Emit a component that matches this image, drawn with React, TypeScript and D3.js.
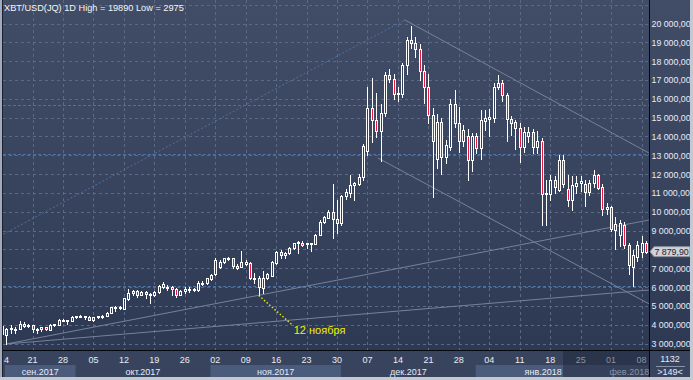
import React from 'react';
import * as d3 from 'd3';

// ---- data (daily candles, 14 Sep 2017 .. 9 Feb 2018) ----
const startDate = new Date(2017, 8, 14);
const opens = [3920,3450,3760,3740,3790,4040,3930,3960,3740,3780,3860,3740,3990,3990,4230,4200,4200,
  4420,4430,4450,4400,4260,4400,4440,4460,4620,4900,4960,4850,5380,5680,5770,5600,5740,5560,5560,5740,6010,6020,6000,5900,5600,5780,5920,5830,5860,6200,6200,
  6450,6680,7090,7330,7510,7550,7140,7090,7240,7270,6490,6500,5960,6490,6610,7270,7850,7720,7800,8080,8330,8330,8260,8290,8290,8780,9450,9680,9980,9630,
  9390,10810,10990,11400,11480,11840,13220,15520,14880,14280,15260,17290,17060,16230,16270,17770,19130,18950,18620,17500,16620,15150,12800,14760,12900,13430,15730,14700,13780,14050,12760,
  14050,13400,14810,14940,15000,16650,16830,16180,14940,14760,14460,13430,14000,14230,13430,13750,10950,10920,11660,11130,12760,11200,10600,11380,11520,11500,11050,11520,11930,11300,10160,
  10240,9050,8750,9300,8250,7050,7600,7850,8350];
const highs = [3980,3830,4000,3900,4190,4120,4040,3980,3840,3900,3880,4010,4060,4280,4300,4270,4450,
  4460,4520,4470,4450,4420,4470,4490,4660,4960,5010,5000,5420,5900,5850,5850,5800,5780,5680,5800,6100,6250,6120,6060,5950,5850,5980,6000,5950,6300,6300,6500,
  6700,7520,7450,7560,7620,7560,7220,7940,7420,7320,6720,6600,6840,6760,7380,7930,7980,7880,8120,8350,8440,8420,8360,8360,8820,9550,9800,10100,11480,10600,
  10900,11200,11930,11570,12000,13600,16600,17100,16300,15730,17410,17600,17300,16600,17900,19300,19890,19300,18900,17800,17300,15500,15200,15000,13800,16000,16480,15550,14600,14410,14180,
  14200,15410,15410,15470,16850,17240,17000,16300,15100,14850,14700,14500,14500,14400,14300,13900,11700,11930,11900,13040,12990,11930,11900,11900,11900,11700,11700,12220,12000,11500,10450,
  10330,9700,9550,9450,8350,7950,8450,8700,8450];
const lows = [3450,2975,3560,3580,3760,3880,3860,3600,3580,3690,3720,3720,3920,3980,4200,4060,4190,
  4330,4400,4300,4230,4220,4380,4380,4440,4600,4750,4850,4840,5320,5600,5450,5560,5400,5140,5500,5700,5950,5850,5600,5450,5560,5700,5750,5780,5800,6120,6150,
  6400,6660,7000,7280,7420,7020,6960,7080,7150,6450,6200,5550,5670,6440,6600,7200,7560,7560,7760,8040,7800,8200,8050,7900,8260,8760,9400,9650,8620,8860,
  9300,10700,10800,10630,11400,11700,13000,13700,13960,12720,15100,16900,16000,15900,16100,17300,18700,18200,17000,15800,14700,10800,12300,12000,12600,13300,14490,13160,13500,11700,12190,
  13100,12800,14320,14050,14760,16500,15900,13780,14100,13340,12630,13200,13700,13100,13100,9270,9300,10600,11000,11100,11300,10300,10100,11000,11100,10300,10900,11300,11200,9850,9900,
  9000,8000,8200,8100,6700,6050,7400,7600,7820];
const closes = [3500,3790,3840,3790,4060,3940,3960,3750,3790,3860,3780,3990,4020,4260,4260,4240,4420,
  4440,4460,4420,4260,4400,4440,4460,4620,4920,4960,4900,5400,5700,5770,5600,5730,5640,5650,5760,6030,6170,5960,5900,5600,5800,5920,5830,5880,6240,6240,6460,
  6660,7450,7330,7520,7560,7100,7030,7330,7350,6490,6420,6010,6490,6670,7330,7850,7710,7800,8080,8330,8400,8250,8320,8330,8780,9450,9710,9980,9630,9390,
  10810,11040,11400,11520,11870,13470,15520,14880,14280,15260,17290,17060,16230,16300,17770,19130,18990,18620,17500,16620,15150,13780,14760,12900,13520,15730,14700,13780,14320,12760,14050,
  13400,14850,15000,15040,16650,16830,16180,14940,14700,14460,13430,14230,14230,13430,13750,10950,11000,11660,11340,12760,11500,10600,11400,11520,11620,11050,11550,11930,11280,10160,10240,
  9100,9350,9400,8250,7150,7700,8210,8350,7879.9];

const priceTicks = d3.range(3000, 21000, 1000);
const gridValues = d3.range(3000, 22000, 1000);
const levelValues = [15650, 13080, 6070];
const lastPrice = 7879.9;
const monthNames = ['янв', 'фев', 'мар', 'апр', 'май', 'июн', 'июл', 'авг', 'сен', 'окт', 'ноя', 'дек'];
// trend lines in (bar index, price) space
const supportLines = [
  { i1: 1, v1: 2975, i2: 148.7, v2: 9560 },
  { i1: 1, v1: 2975, i2: 148.7, v2: 5842 },
];
const channelLines = [
  { i1: 92.5, v1: 20200, i2: 148.7, v2: 13120 },
  { i1: 86.4, v1: 12855, i2: 148.7, v2: 5110 },
];
const fanLine = { i1: -0.5, v1: 8710, i2: 92.6, v2: 20190 };
const noteIndex = 59;
const noteText = '12 ноября';

const W = 693, H = 380;
const PL = 3, PR = 649, PB = 350;

export default function App() {
  const n = opens.length;
  const dates = d3.range(n).map((i) => d3.timeDay.offset(startDate, i));
  const x = d3.scaleLinear().domain([0, n - 1]).range([2.1, 645.9]);
  const y = d3.scaleLinear().domain([3000, 20000]).range([343.5, 23.5]);
  const weekIdx = d3.range(0, n, 7);
  const pad = (d: number) => (d < 10 ? '0' + d : '' + d);
  // axis labels show only the part that fits before the window edge
  const fmtPrice = (v: number) => {
    const s = d3.format(',.4f')(v).replace(/,/g, ' ').replace('.', ',');
    return v >= 10000 ? s.slice(0, 9) : s.slice(0, 9);
  };

  const months: { start: number; end: number; label: string; idx: number }[] = [];
  const monthStarts = [{ i: -13, d: new Date(2017, 8, 1) }];
  dates.forEach((d, i) => {
    if (d.getDate() === 1) monthStarts.push({ i, d });
  });
  monthStarts.forEach((ms, k) => {
    const next = monthStarts[k + 1];
    const s = Math.max(PL + 2, x(ms.i) - 0.5);
    const e = next ? x(next.i) - 0.5 : PR - 1;
    months.push({ start: s, end: e, label: monthNames[ms.d.getMonth()] + '.' + ms.d.getFullYear(), idx: k });
  });

  const font = '"Liberation Sans", Arial, sans-serif';
  const lastY = y(lastPrice);
  const overlayX = 563;

  return (
    <svg width={W} height={H} style={{ position: 'absolute', left: 0, top: 0 }} fontFamily={font}>
      <defs>
        <linearGradient id="bg" x1="0" y1="0" x2="0" y2="1">
          <stop offset="0" stopColor="#414d67" />
          <stop offset="0.5" stopColor="#38445e" />
          <stop offset="1" stopColor="#2b3650" />
        </linearGradient>
        <clipPath id="plot">
          <rect x={PL} y={0} width={PR - PL} height={PB} />
        </clipPath>
      </defs>
      <rect x={0} y={0} width={W} height={H} fill="url(#bg)" />

      <g clipPath="url(#plot)">
        {gridValues.map((v) => (
          <line key={'h' + v} x1={PL} x2={PR} y1={Math.round(y(v)) + 0.5} y2={Math.round(y(v)) + 0.5}
            stroke="#5c6985" strokeDasharray="3,3" />
        ))}
        {weekIdx.map((i) => (
          <line key={'v' + i} x1={Math.round(x(i)) + 0.5} x2={Math.round(x(i)) + 0.5} y1={0} y2={PB}
            stroke="#5c6985" strokeDasharray="3,3" />
        ))}
        {levelValues.map((v) => (
          <line key={'l' + v} x1={PL} x2={PR} y1={Math.round(y(v)) + 0.5} y2={Math.round(y(v)) + 0.5}
            stroke="#4d70a0" strokeDasharray="3,2" />
        ))}
        <line x1={x(fanLine.i1)} y1={y(fanLine.v1)} x2={x(fanLine.i2)} y2={y(fanLine.v2)}
          stroke="#4d70a0" strokeDasharray="2,2" />
        {supportLines.concat(channelLines).map((l, k) => (
          <line key={'t' + k} x1={x(l.i1)} y1={y(l.v1)} x2={x(l.i2)} y2={y(l.v2)}
            stroke="#76819b" strokeWidth={1} />
        ))}
        {dates.map((d, i) => {
          const px = Math.round(x(i));
          const o = opens[i], c = closes[i];
          const up = c >= o;
          const top = Math.round(y(Math.max(o, c)));
          const bot = Math.round(y(Math.min(o, c)));
          return (
            <g key={'c' + i}>
              <line x1={px + 0.5} x2={px + 0.5} y1={Math.round(y(highs[i]))} y2={Math.round(y(lows[i])) + 1}
                stroke="#ffffff" />
              <rect x={px - 0.5} y={top + 0.5} width={2} height={Math.max(1, bot - top)}
                fill={up ? '#34405a' : '#e8183f'} stroke="#ffffff" />
            </g>
          );
        })}
        <line x1={x(noteIndex)} y1={y(lows[noteIndex])} x2={x(noteIndex) + 33} y2={y(lows[noteIndex]) + 29}
          stroke="#e6e600" strokeWidth={1.5} strokeDasharray="1.5,2" />
        <text x={x(noteIndex) + 35} y={y(lows[noteIndex]) + 38} fill="#f2f200" fontSize={11}>{noteText}</text>
      </g>

      <text x={4} y={11} fill="#f4f6fa" fontSize={9.2}>XBT/USD(JQ) 1D High = 19890 Low = 2975</text>

      {/* right axis */}
      <line x1={PR + 0.5} x2={PR + 0.5} y1={0} y2={PB} stroke="#05070c" />
      {priceTicks.filter((v) => Math.abs(y(v) - lastY) > 8).map((v) => (
        <text key={'p' + v} x={651.5} y={y(v) + 3.5} fill="#e6ecf8" fontSize={8.8}>{fmtPrice(v)}</text>
      ))}
      <path d={`M${PR + 1},${lastY} L${PR + 5},${lastY - 5} H690 V${lastY + 5} H${PR + 5} Z`}
        fill="#cfd2d8" stroke="#8a8f99" />
      <text x={654.5} y={lastY + 3.5} fill="#1c2230" fontSize={8.8}>{fmtPrice(lastPrice).slice(0, 8)}</text>

      {/* bottom axis */}
      <rect x={0} y={PB} width={W} height={H - PB} fill="#38445e" />
      {months.map((mm) => (
        <g key={'m' + mm.idx}>
          {mm.idx % 2 === 0 || mm.idx === 5 ? (
            <rect x={mm.start} y={365} width={mm.end - mm.start} height={12} fill="#4b5b7b" />
          ) : null}
        </g>
      ))}
      <rect x={overlayX} y={PB + 1} width={PR - overlayX} height={26} fill="#1a2233" opacity={0.45} />
      {weekIdx.map((i) => (
        i === 0 ? (
          <text key={'d' + i} x={4} y={363} fontSize={9} fill="#e6ecf8">{pad(dates[i].getDate()).slice(1)}</text>
        ) : (
          <text key={'d' + i} x={x(i)} y={363} textAnchor="middle" fontSize={9}
            fill={x(i) > overlayX ? '#8793a8' : '#e6ecf8'}>{pad(dates[i].getDate())}</text>
        )
      ))}
      {months.map((mm) => (
        <text key={'ml' + mm.idx} x={(mm.start + mm.end) / 2} y={375} textAnchor="middle" fontSize={9}
          fill={(mm.start + mm.end) / 2 > overlayX ? '#8793a8' : '#e6ecf8'}>{mm.label}</text>
      ))}
      <line x1={0} x2={690} y1={PB + 0.5} y2={PB + 0.5} stroke="#05070c" />
      <line x1={PR + 0.5} x2={PR + 0.5} y1={PB} y2={377} stroke="#05070c" />
      <text x={670} y={362} textAnchor="middle" fontSize={9} fill="#e6ecf8">1132</text>
      <line x1={656} x2={685} y1={366.5} y2={366.5} stroke="#8793a8" />
      <text x={670} y={375} textAnchor="middle" fontSize={9} fill="#e6ecf8">{'>149<'}</text>

      {/* window borders */}
      <rect x={0} y={0} width={2} height={H} fill="#a3abbb" />
      <line x1={2.5} x2={2.5} y1={0} y2={377} stroke="#1b2130" />
      <rect x={690} y={0} width={3} height={H} fill="#c4c8d0" />
      <rect x={0} y={377} width={W} height={3} fill="#c4c8d0" />
    </svg>
  );
}
